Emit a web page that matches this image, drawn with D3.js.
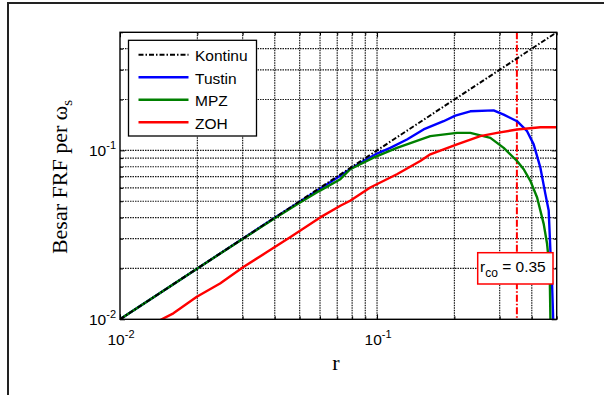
<!DOCTYPE html>
<html>
<head>
<meta charset="utf-8">
<script src="https://cdn.jsdelivr.net/npm/d3@7"></script>
<style>
  body { margin: 0; background: #fff; }
  svg { display: block; }
  .grid line { stroke: #1a1a1a; stroke-width: 1.2; stroke-dasharray: 1.5,1; }
  .tick-lbl { font-family: "Liberation Sans", Arial, sans-serif; font-size: 15.5px; fill: #000; }
  .title { font-family: "Liberation Serif", "Times New Roman", serif; font-size: 22px; fill: #000; }
</style>
</head>
<body>
<svg id="chart" width="604" height="395"></svg>
<script>
// axis ticks
let majorTicks = [0.01, 0.1];
let tickExp = ["-2", "-1"];

// continuous (reference) response, straight line y = r
let kontinuR = [0.01, 0.02, 0.05, 0.1, 0.2, 0.5];
let kontinuVal = [0.01, 0.02, 0.05, 0.1, 0.2, 0.5];

let tustinR = [0.01, 0.02, 0.03, 0.04, 0.05, 0.06, 0.07, 0.0786, 0.0886, 0.1, 0.1126, 0.1307, 0.1517,
  0.1815, 0.2016, 0.2306, 0.2842, 0.311, 0.3505, 0.3835, 0.4068, 0.432, 0.4519, 0.4654, 0.4725,
  0.4797, 0.4841, 0.487];
let tustinVal = [0.01, 0.02, 0.03, 0.0399, 0.0497, 0.0593, 0.0688, 0.0775, 0.0865, 0.0958, 0.1035, 0.116, 0.133,
  0.1488, 0.1607, 0.1703, 0.1726, 0.1628, 0.1488, 0.1299, 0.1085, 0.079, 0.0551, 0.044, 0.0256,
  0.0163, 0.01035, 0.007];

let mpzR = [0.01, 0.02, 0.03, 0.04, 0.05, 0.06, 0.072, 0.0786, 0.0969, 0.1195, 0.1611, 0.2047, 0.2306,
  0.276, 0.311, 0.3505, 0.372, 0.395, 0.4195, 0.445, 0.4587, 0.4695, 0.4725, 0.474];
let mpzVal = [0.01, 0.02, 0.0299, 0.0396, 0.049, 0.0578, 0.0675, 0.0773, 0.0905, 0.1035, 0.1214, 0.1269, 0.1269,
  0.1186, 0.1035, 0.0865, 0.0773, 0.066, 0.0526, 0.0367, 0.028, 0.0195, 0.01035, 0.007];

let zohR = [0.0135, 0.01453, 0.01613, 0.0199, 0.0245, 0.0302, 0.0373, 0.0459, 0.0601, 0.072, 0.0786, 0.0941,
  0.1195, 0.1473, 0.1611, 0.2047, 0.2522, 0.293, 0.3505, 0.432, 0.5];
let zohVal = [0.0092, 0.01, 0.01085, 0.0136, 0.0163, 0.0204, 0.025, 0.0306, 0.0401, 0.047, 0.0503, 0.0603,
  0.0722, 0.0865, 0.0947, 0.1085, 0.1214, 0.1269, 0.133, 0.137, 0.137];

let cutoffR = 0.35;

let seriesNames = ["Kontinu", "Tustin", "MPZ", "ZOH"];
let seriesColors = ["#000", "#0000ff", "#008000", "#ff0000"];

let svg = d3.select("#chart");

// figure frame (cropped document border)
svg.append("path")
  .attr("d", "M8,395V3H604")
  .attr("fill", "none")
  .attr("stroke", "#222")
  .attr("stroke-width", 2);

let plotLeft = 120, plotRight = 556.7, plotTop = 32.3, plotBottom = 319.3;

let x = d3.scaleLog().domain([0.01, 0.5]).range([plotLeft, plotRight]);
let y = d3.scaleLog().domain([0.01, 0.5]).range([plotBottom, plotTop]);

let gridVals = x.ticks();

// grid
let grid = svg.append("g").attr("class", "grid");
grid.selectAll(".gx")
  .data(gridVals.filter(v => v > 0.01 && v < 0.5))
  .enter().append("line")
  .attr("x1", d => x(d)).attr("x2", d => x(d))
  .attr("y1", plotTop).attr("y2", plotBottom);
grid.selectAll(".gy")
  .data(gridVals.filter(v => v > 0.01 && v < 0.5))
  .enter().append("line")
  .attr("y1", d => y(d)).attr("y2", d => y(d))
  .attr("x1", plotLeft).attr("x2", plotRight);

// ticks on all four sides, pointing inward
function addAxis(axis, tx, ty) {
  let g = svg.append("g")
    .attr("transform", `translate(${tx},${ty})`)
    .call(axis);
  g.select(".domain").remove();
  g.selectAll("text").remove();
  g.selectAll("line").attr("stroke", "#000");
}
let minorTicks = gridVals.filter(v => majorTicks.indexOf(v) < 0);
addAxis(d3.axisBottom(x).tickValues(majorTicks).tickSize(-5), 0, plotBottom);
addAxis(d3.axisBottom(x).tickValues(minorTicks).tickSize(-3), 0, plotBottom);
addAxis(d3.axisTop(x).tickValues(majorTicks).tickSize(-5), 0, plotTop);
addAxis(d3.axisTop(x).tickValues(minorTicks).tickSize(-3), 0, plotTop);
addAxis(d3.axisLeft(y).tickValues(majorTicks).tickSize(-5), plotLeft, 0);
addAxis(d3.axisLeft(y).tickValues(minorTicks).tickSize(-3), plotLeft, 0);
addAxis(d3.axisRight(y).tickValues(majorTicks).tickSize(-5), plotRight, 0);
addAxis(d3.axisRight(y).tickValues(minorTicks).tickSize(-3), plotRight, 0);

// tick labels 10^n
let xl = svg.append("g").selectAll("text")
  .data(majorTicks)
  .enter().append("text")
  .attr("class", "tick-lbl")
  .attr("x", d => x(d) + 1)
  .attr("y", 345)
  .attr("text-anchor", "middle");
xl.append("tspan").text("10");
xl.append("tspan").attr("dy", -7).attr("font-size", "11px").text((d, i) => tickExp[i]);

let yl = svg.append("g").selectAll("text")
  .data(majorTicks)
  .enter().append("text")
  .attr("class", "tick-lbl")
  .attr("x", 116)
  .attr("y", d => y(d) + 5.5)
  .attr("text-anchor", "end");
yl.append("tspan").text("10");
yl.append("tspan").attr("dy", -7).attr("font-size", "11px").text((d, i) => tickExp[i]);

// axis titles
svg.append("text")
  .attr("class", "title")
  .attr("x", 336)
  .attr("y", 370)
  .attr("text-anchor", "middle")
  .text("r");

let yt = svg.append("text")
  .attr("class", "title")
  .attr("transform", "translate(67,177) rotate(-90)")
  .attr("text-anchor", "middle");
yt.append("tspan").text("Besar FRF per \u03c9");
yt.append("tspan").attr("dy", 5).attr("font-size", "15px").text("s");

// curves
svg.append("clipPath").attr("id", "plot-clip")
  .append("rect")
  .attr("x", plotLeft).attr("y", plotTop)
  .attr("width", plotRight - plotLeft).attr("height", plotBottom - plotTop);

let line = d3.line()
  .x(d => x(d[0]))
  .y(d => y(d[1]))
  .curve(d3.curveLinear);

let curves = [
  { name: "Kontinu", pts: d3.zip(kontinuR, kontinuVal), dash: "5,2,1.5,2", w: 2 },
  { name: "Tustin", pts: d3.zip(tustinR, tustinVal), dash: null, w: 2.4 },
  { name: "MPZ", pts: d3.zip(mpzR, mpzVal), dash: null, w: 2.4 },
  { name: "ZOH", pts: d3.zip(zohR, zohVal), dash: null, w: 2.4 }
];

let plot = svg.append("g").attr("clip-path", "url(#plot-clip)");

// cut-off marker
plot.append("line")
  .attr("x1", x(cutoffR)).attr("x2", x(cutoffR))
  .attr("y1", plotTop).attr("y2", plotBottom)
  .attr("stroke", "#ff0000")
  .attr("stroke-width", 2)
  .attr("stroke-dasharray", "7,2,1.5,2");

// draw continuous last so it sits on top like the reference
plot.selectAll(".curve")
  .data(curves.slice(1).concat(curves.slice(0, 1)))
  .enter().append("path")
  .attr("class", "curve")
  .attr("fill", "none")
  .attr("d", c => line(c.pts))
  .attr("stroke", c => seriesColors[seriesNames.indexOf(c.name)])
  .attr("stroke-width", c => c.w)
  .attr("stroke-dasharray", c => c.dash)
  .attr("stroke-linejoin", "round");

// axes box
svg.append("rect")
  .attr("x", plotLeft).attr("y", plotTop)
  .attr("width", plotRight - plotLeft).attr("height", plotBottom - plotTop)
  .attr("fill", "none")
  .attr("stroke", "#000")
  .attr("stroke-width", 1.4);

// legend
let lg = svg.append("g");
lg.append("rect")
  .attr("x", 128.5).attr("y", 40.3)
  .attr("width", 128).attr("height", 95.7)
  .attr("fill", "#fff")
  .attr("stroke", "#000")
  .attr("stroke-width", 1.3);
let items = lg.selectAll(".item")
  .data(curves)
  .enter().append("g")
  .attr("transform", (d, i) => `translate(0,${54.8 + i * 22.5})`);
items.append("line")
  .attr("x1", 138.5).attr("x2", 188.5)
  .attr("stroke", c => seriesColors[seriesNames.indexOf(c.name)])
  .attr("stroke-width", c => c.w)
  .attr("stroke-dasharray", c => c.dash);
items.append("text")
  .attr("class", "tick-lbl")
  .attr("x", 195)
  .attr("y", 6.3)
  .text(c => c.name);

// cut-off annotation
svg.append("rect")
  .attr("x", 477.7).attr("y", 252.7)
  .attr("width", 75.3).attr("height", 31.3)
  .attr("fill", "#fff")
  .attr("stroke", "#ff0000")
  .attr("stroke-width", 1.5);
let ann = svg.append("text")
  .attr("class", "tick-lbl")
  .attr("x", 480)
  .attr("y", 272)
  .attr("font-size", "16px");
ann.append("tspan").text("r");
ann.append("tspan").attr("dy", 5).attr("font-size", "12px").text("co");
ann.append("tspan").attr("dy", -5).text(" = " + cutoffR);
</script>
</body>
</html>
